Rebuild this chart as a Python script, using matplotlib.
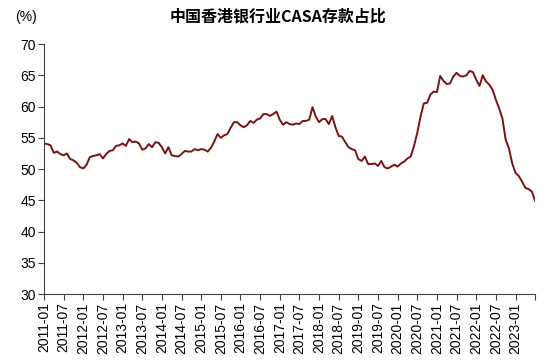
import numpy as np
import pandas as pd
import matplotlib
matplotlib.use("Agg")
import matplotlib.pyplot as plt

plt.rcParams['font.family'] = ['Liberation Sans', 'Noto Sans CJK SC', 'DejaVu Sans']

# ---- 数据：香港银行业CASA存款占比（%），月度 2011-01 ~ 2023-07 ----
casa = [
    54.1, 54.0, 53.8, 52.6, 52.8, 52.4, 52.2, 52.5, 51.6, 51.4, 51.0, 50.3,
    50.1, 50.7, 51.9, 52.1, 52.2, 52.4, 51.7, 52.4, 52.9, 53.0, 53.7, 53.8,
    54.1, 53.7, 54.8, 54.3, 54.4, 54.1, 53.1, 53.3, 54.0, 53.5, 54.3, 54.2,
    53.5, 52.5, 53.5, 52.2, 52.1, 52.0, 52.4, 52.9, 52.8, 52.8, 53.2, 53.0,
    53.2, 53.1, 52.8, 53.4, 54.4, 55.6, 55.0, 55.4, 55.6, 56.6, 57.5, 57.5,
    57.0, 56.7, 57.0, 57.7, 57.4, 57.9, 58.1, 58.8, 58.8, 58.5, 58.8, 59.2,
    57.9, 57.1, 57.5, 57.2, 57.1, 57.3, 57.2, 57.7, 57.7, 57.9, 59.9, 58.4,
    57.5, 58.0, 58.0, 57.2, 58.5, 56.7, 55.3, 55.2, 54.3, 53.5, 53.2, 53.0,
    51.6, 51.3, 52.0, 50.8, 50.8, 50.9, 50.5, 51.3, 50.3, 50.1, 50.4, 50.7,
    50.4, 50.9, 51.2, 51.7, 52.0, 53.7, 55.8, 58.4, 60.5, 60.6, 61.9, 62.4,
    62.3, 64.9, 64.1, 63.6, 63.7, 64.8, 65.4, 64.9, 64.8, 65.0, 65.7, 65.5,
    64.3, 63.3, 65.0, 64.0, 63.5, 62.7, 61.1, 59.7, 58.1, 54.7, 53.3, 50.9,
    49.4, 48.9, 48.0, 47.0, 46.8, 46.4, 44.9,
]
months = pd.date_range("2011-01-01", periods=len(casa), freq="MS")

tick_pos = list(range(0, len(casa), 6))
tick_labels = [months[i].strftime("%Y-%m") for i in tick_pos]
tick_labels[-1] = ""   # 最后一个刻度无标签

# ---- 绘图 ----
fig = plt.figure(figsize=(5.5, 3.64), dpi=100)
ax = fig.add_axes([0.080, 0.192, 0.893, 0.687])

ax.plot(np.arange(len(casa)), casa, color="#7a1214", lw=1.4)

ax.set_xlim(0, len(casa) - 1)
ax.set_ylim(30, 70)
ax.set_yticks(range(30, 71, 5))
ax.set_xticks(tick_pos)
ax.set_xticklabels(tick_labels, rotation=90)

for s in ["top", "right"]:
    ax.spines[s].set_visible(False)
for s in ["left", "bottom"]:
    ax.spines[s].set_color("#404040")
    ax.spines[s].set_linewidth(0.8)
ax.tick_params(axis="both", labelsize=10, color="#404040", length=4, width=0.8,
               pad=2, labelcolor="black")

fig.text(0.505, 0.955, "中国香港银行业CASA存款占比", ha="center", va="center",
         fontsize=11.5, fontweight="bold", family=["Noto Sans CJK SC", "DejaVu Sans"])
fig.text(0.028, 0.953, "(%)", ha="left", va="center", fontsize=10)

plt.savefig("out.png", dpi=100)
